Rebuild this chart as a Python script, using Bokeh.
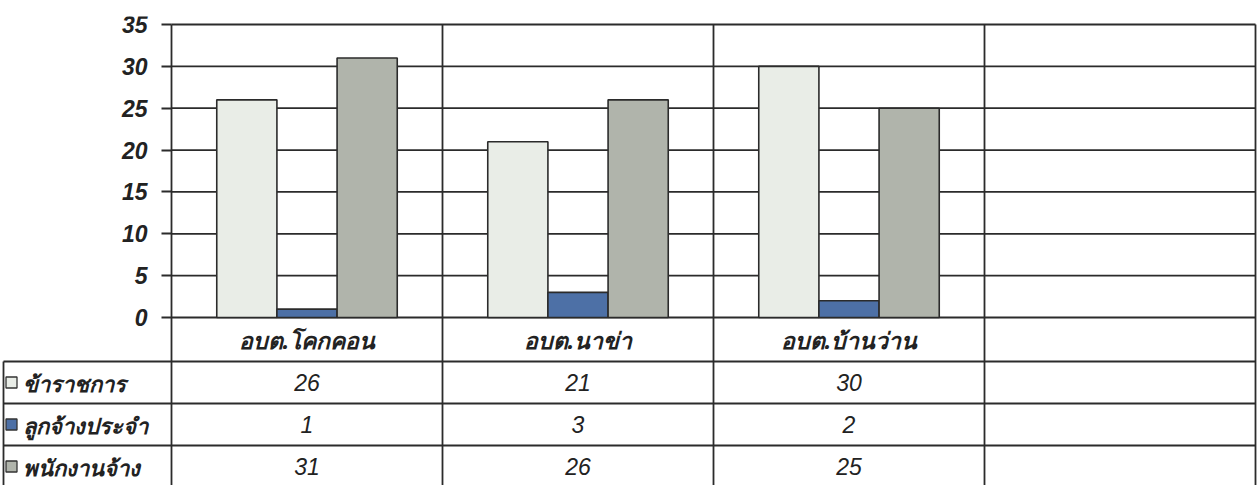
import numpy as np
from bokeh.plotting import figure
from bokeh.models import Range1d, LinearAxis, FixedTicker
from bokeh.core.properties import value
from bokeh.embed import file_html
from bokeh.resources import INLINE

# ---- data ----
categories = ["อบต.โคกคอน", "อบต.นาข่า", "อบต.บ้านว่าน"]
series_names = ["ข้าราชการ", "ลูกจ้างประจำ", "พนักงานจ้าง"]
kharatchakan = [26, 21, 30]
lukjang_pracham = [1, 3, 2]
phanakngan_jang = [31, 26, 25]
y_ticks = [0, 5, 10, 15, 20, 25, 30, 35]

series_values = [kharatchakan, lukjang_pracham, phanakngan_jang]
colors = ["#e9ede7", "#4d70a6", "#b0b4ab"]
LINE = "#2b2b2b"

# ---- layout constants ----
W, H = 1259, 485
PX_X = 271.0
LEG_PX = 171.0
n_cols = 4                      # 3 categories + one empty column
x_start = -LEG_PX / PX_X
x_end = x_start + W / PX_X

PX_Y = 293.0 / 35.0
TOP_PAD = 16
y_top = 35 + 8 / PX_Y
y_bot = y_top - (H - TOP_PAD) / PX_Y
CAT_ROW = 44 / PX_Y
ROW = 42 / PX_Y
table_bottom = -(CAT_ROW + 3 * ROW)

p = figure(width=W, height=H, output_backend="svg", toolbar_location=None,
           x_axis_type=None, y_axis_type=None,
           x_range=Range1d(x_start, x_end), y_range=Range1d(y_bot, y_top),
           min_border_left=0, min_border_right=0,
           min_border_top=TOP_PAD, min_border_bottom=0)
p.outline_line_color = None
p.background_fill_color = "white"
p.border_fill_color = "white"

# y axis placed at the chart's left edge
yaxis = LinearAxis(ticker=FixedTicker(ticks=y_ticks), fixed_location=0, bounds=(0, 35))
yaxis.axis_line_color = None
yaxis.major_tick_out = 10
yaxis.major_tick_in = 0
yaxis.major_tick_line_color = LINE
yaxis.major_tick_line_width = 1.8
yaxis.minor_tick_line_color = None
yaxis.major_label_standoff = 14
yaxis.major_label_text_font = "Liberation Sans"
yaxis.major_label_text_font_style = "bold italic"
yaxis.major_label_text_font_size = "23px"
yaxis.major_label_text_color = "#222222"
p.add_layout(yaxis, "left")

# horizontal grid lines of the chart area
p.segment(x0=0, x1=n_cols, y0=y_ticks, y1=y_ticks, line_color=LINE, line_width=1.8)

# bars
xc = np.arange(len(categories)) + 0.5
bw = 0.222
offsets = [-bw, 0, bw]
for vals, off, col in zip(series_values, offsets, colors):
    p.vbar(x=xc + off, top=vals, bottom=0, width=bw, fill_color=col,
           line_color=LINE, line_width=1.6)

# table grid
col_edges = list(range(n_cols + 1))
p.segment(x0=col_edges, x1=col_edges, y0=[35] * len(col_edges),
          y1=[table_bottom] * len(col_edges), line_color=LINE, line_width=1.8)
row_lines = [-CAT_ROW - ROW * i for i in range(4)]
lx = x_start + 3 / PX_X
p.segment(x0=[lx] * 4, x1=[n_cols] * 4, y0=row_lines, y1=row_lines,
          line_color=LINE, line_width=1.8)
p.segment(x0=[lx], x1=[lx], y0=[-CAT_ROW], y1=[table_bottom],
          line_color=LINE, line_width=1.8)

# category labels
p.text(x=xc, y=[-CAT_ROW / 2] * len(categories), text=categories,
       text_align="center", text_baseline="middle",
       text_font=value("Noto Sans"), text_font_style="bold italic",
       text_font_size="23px", text_color="#222222")

# data table values
for j, vals in enumerate(series_values):
    yc = -(CAT_ROW + ROW * j + ROW / 2)
    p.text(x=xc, y=[yc] * len(vals), text=[str(v) for v in vals],
           text_align="center", text_baseline="middle",
           text_font=value("Liberation Sans"), text_font_style="italic",
           text_font_size="23px", text_color="#222222")

# legend keys + series names in the left column
row_centers = [-(CAT_ROW + ROW * j + ROW / 2) for j in range(3)]
p.scatter(x=[x_start + 11 / PX_X] * 3, y=row_centers, marker="square", size=11,
          fill_color=colors, line_color="#333333", line_width=1.3)
p.text(x=[x_start] * 3, y=row_centers, text=series_names, x_offset=22,
       text_align="left", text_baseline="middle",
       text_font=value("Noto Sans"), text_font_style="bold italic",
       text_font_size="22px", text_color="#222222")

open("out.html", "w").write(file_html(p, INLINE))
